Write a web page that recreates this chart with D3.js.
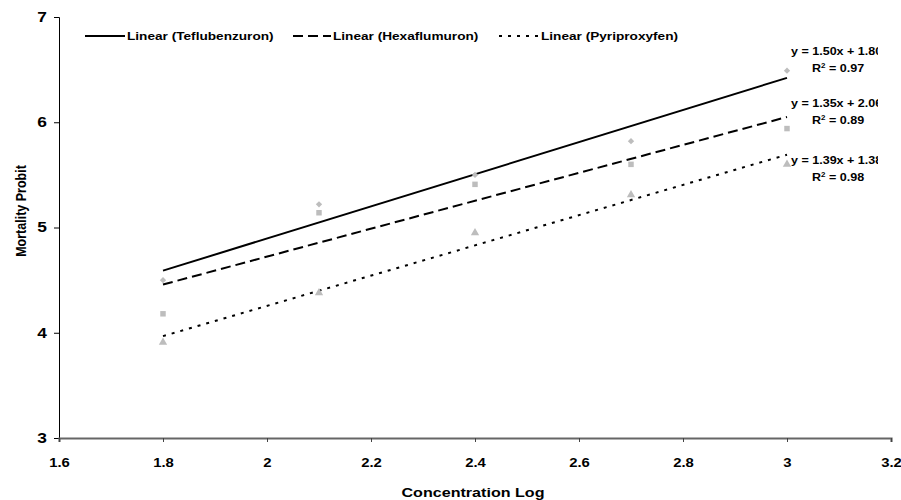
<!DOCTYPE html>
<html>
<head>
<meta charset="utf-8">
<script src="https://cdn.jsdelivr.net/npm/d3@7"></script>
<style>
  body { margin: 0; background: #fff; }
  text { font-family: "Liberation Sans", Arial, sans-serif; font-weight: bold; }
</style>
</head>
<body>
<div id="wrapper"></div>
<script>
// concentration (log) and mortality probit for each insecticide
const concLog = [1.8, 2.1, 2.4, 2.7, 3.0]
const teflubenzuron = [4.50, 5.22, 5.50, 5.82, 6.49]
const hexaflumuron = [4.18, 5.14, 5.41, 5.60, 5.94]
const pyriproxyfen = [3.91, 4.38, 4.95, 5.31, 5.60]

const seriesNames = ["Teflubenzuron", "Hexaflumuron", "Pyriproxyfen"]
const equations = ["y = 1.50x + 1.80", "y = 1.35x + 2.06", "y = 1.39x + 1.38"]
const rSquared = ["0.97", "0.89", "0.98"]

const xTicks = [1.6, 1.8, 2, 2.2, 2.4, 2.6, 2.8, 3, 3.2]
const yTicks = [3, 4, 5, 6, 7]

// the original picture is a bit wider than tall, text looks stretched
const stretch = 1.24
const eqStretch = 1.14

const dimensions = {
    width: 901,
    height: 500,
    margin: { top: 17, right: 10, bottom: 62, left: 59 },
}
dimensions.boundedWidth = dimensions.width - dimensions.margin.left - dimensions.margin.right
dimensions.boundedHeight = dimensions.height - dimensions.margin.top - dimensions.margin.bottom

const svg = d3.select("#wrapper").append("svg")
    .attr("width", dimensions.width)
    .attr("height", dimensions.height)

svg.append("defs").append("clipPath").attr("id", "clip")
  .append("rect").attr("x", 0).attr("y", 0).attr("width", 878).attr("height", 500)

const bounds = svg.append("g")
    .attr("transform", `translate(${dimensions.margin.left},${dimensions.margin.top})`)

const xScale = d3.scaleLinear().domain([1.6, 3.2]).range([0, 832])
const yScale = d3.scaleLinear().domain([3, 7]).range([dimensions.boundedHeight, 0])

// axes
const yAxis = d3.axisLeft(yScale).tickValues(yTicks).tickSize(5).tickFormat(d3.format("d"))
const yAxisGroup = bounds.append("g").call(yAxis)
yAxisGroup.select(".domain").attr("stroke", "#000").attr("stroke-width", 1)
yAxisGroup.selectAll("text")
    .attr("x", -12 / stretch)
    .attr("transform", `scale(${stretch},1)`)
    .style("font-size", "14px").attr("fill", "#000")

const xAxis = d3.axisBottom(xScale).tickValues(xTicks).tickSize(4).tickPadding(16).tickFormat(d => d)
const xAxisGroup = bounds.append("g")
    .attr("transform", `translate(0,${dimensions.boundedHeight})`)
    .call(xAxis)
xAxisGroup.select(".domain").attr("stroke", "#666").attr("stroke-width", 2.2)
xAxisGroup.selectAll(".tick line").attr("stroke", "#444")
xAxisGroup.selectAll("text")
    .attr("transform", `scale(${stretch},1)`)
    .style("font-size", "12px").attr("fill", "#000")

svg.append("text")
    .attr("transform", `translate(473,497) scale(${stretch},1)`)
    .attr("text-anchor", "middle")
    .style("font-size", "13px")
    .text("Concentration Log")

svg.append("text")
    .attr("transform", `translate(26,211) scale(${stretch},1) rotate(-90)`)
    .attr("text-anchor", "middle")
    .style("font-size", "12.5px")
    .text("Mortality Probit")

// least squares trend line
function fit(xs, ys) {
    const mx = d3.mean(xs), my = d3.mean(ys)
    const slope = d3.sum(xs, (x, i) => (x - mx) * (ys[i] - my)) / d3.sum(xs, x => (x - mx) ** 2)
    return x => my + slope * (x - mx)
}

const allSeries = [teflubenzuron, hexaflumuron, pyriproxyfen]
const dashes = [null, "10,5", "3,6"]
// diamond = square turned 45deg, like excel's marker
const symbols = [d3.symbolSquare, d3.symbolSquare, d3.symbolTriangle]
const symbolSizes = [20, 30, 30]
const symbolTurn = [45, 0, 0]

allSeries.forEach((vals, i) => {
    const f = fit(concLog, vals)
    const ends = d3.extent(concLog)
    bounds.append("line")
        .attr("x1", xScale(ends[0])).attr("y1", yScale(f(ends[0])))
        .attr("x2", xScale(ends[1])).attr("y2", yScale(f(ends[1])))
        .attr("stroke", "#000")
        .attr("stroke-width", 2)
        .attr("stroke-dasharray", dashes[i])

    bounds.selectAll(".pt" + i).data(vals).join("path")
        .attr("class", "pt" + i)
        .attr("transform", (d, j) => `translate(${xScale(concLog[j])},${yScale(d)}) rotate(${symbolTurn[i]})`)
        .attr("d", d3.symbol().type(symbols[i]).size(symbolSizes[i]))
        .attr("fill", "#bdbdbd")
})

// legend
const legendX = [85, 293, 499]
const legendLen = [40, 38, 40]
const legendGroup = svg.append("g")
seriesNames.forEach((name, i) => {
    legendGroup.append("line")
        .attr("x1", legendX[i]).attr("x2", legendX[i] + legendLen[i])
        .attr("y1", 36).attr("y2", 36)
        .attr("stroke", "#000")
        .attr("stroke-width", 2)
        .attr("stroke-dasharray", dashes[i])
    legendGroup.append("text")
        .attr("transform", `translate(${legendX[i] + legendLen[i] + 2},40) scale(${stretch},1)`)
        .style("font-size", "11px")
        .text(`Linear (${name})`)
})

// trendline equations
const eqY = [55, 107, 164]
const eqGroup = svg.append("g").attr("clip-path", "url(#clip)")
equations.forEach((eq, i) => {
    eqGroup.append("text")
        .attr("transform", `translate(791,${eqY[i]}) scale(${eqStretch},1)`)
        .style("font-size", "11px")
        .text(eq)
    const r = eqGroup.append("text")
        .attr("transform", `translate(812,${eqY[i] + 17}) scale(${eqStretch},1)`)
        .style("font-size", "11px")
    r.append("tspan").text("R")
    r.append("tspan").attr("dy", -4).style("font-size", "7px").text("2")
    r.append("tspan").attr("dy", 4).text(" = " + rSquared[i])
})
</script>
</body>
</html>
